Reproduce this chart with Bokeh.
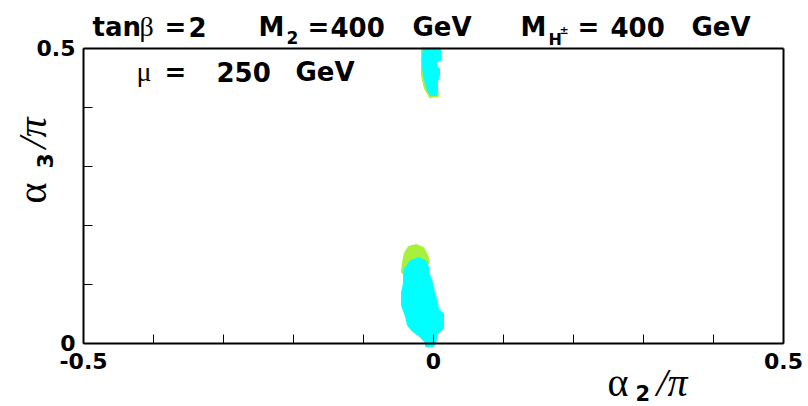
from math import pi
from bokeh.plotting import figure
from bokeh.models import Label, FixedTicker, Range1d, LinearAxis
from bokeh.embed import file_html
from bokeh.resources import INLINE

# ---- data (alpha2/pi, alpha3/pi) outlines of the allowed regions ----
upper_cyan_x = [-0.0143, 0.010, 0.010, 0.0043, 0.0043, 0.0086, 0.0086, 0.0057, 0.0057, 0.0043,
                -0.0043, -0.0086, -0.0114, -0.0143, -0.0157, -0.0157]
upper_cyan_y = [0.500, 0.500, 0.4788, 0.4754, 0.4686, 0.4653, 0.4534, 0.4415, 0.428, 0.4195,
                0.4195, 0.428, 0.4398, 0.4534, 0.4703, 0.4873]
upper_green_x = [-0.0171, -0.0129, -0.0129, -0.0057, 0.0057, 0.0071, -0.0057, -0.0129, -0.0171]
upper_green_y = [0.500, 0.500, 0.4449, 0.4229, 0.4314, 0.4178, 0.4161, 0.4314, 0.4534]

lower_green_x = [-0.0457, -0.0443, -0.0414, -0.0357, -0.0243, -0.0143, -0.0086, -0.0057, -0.0129, -0.040]
lower_green_y = [0.1195, 0.1364, 0.1534, 0.1636, 0.1669, 0.1619, 0.150, 0.1364, 0.1263, 0.1144]

lower_cyan_x = [-0.0414, -0.0329, -0.0214, -0.0114, -0.0071, -0.0057, -0.0014, 0.0014, 0.0057, 0.0071,
                0.0143, 0.0143, 0.0057, 0.0029, 0.0, -0.0114, -0.0114, -0.0214, -0.030, -0.0371,
                -0.040, -0.0457, -0.0457, -0.0429, -0.0429]
lower_cyan_y = [0.1263, 0.1398, 0.1449, 0.1398, 0.1297, 0.1161, 0.1025, 0.0856, 0.0686, 0.0568,
                0.050, 0.0246, 0.0144, 0.0, -0.006, -0.006, 0.0, 0.0127, 0.0195, 0.0297,
                0.0449, 0.0636, 0.0856, 0.1008, 0.1161]

x_limits = (-0.5, 0.5)
y_limits = (0.0, 0.5)
x_major_ticks = [-0.5, 0, 0.5]
x_minor_ticks = [-0.4, -0.3, -0.2, -0.1, 0.1, 0.2, 0.3, 0.4]
y_major_ticks = [0, 0.5]
y_minor_ticks = [0.1, 0.2, 0.3, 0.4]
x_tick_labels = {-0.5: "-0.5", 0: "0", 0.5: "0.5"}
y_tick_labels = {0: "0", 0.5: "0.5"}

CYAN = "#00FFFF"
GREEN = "#A8F03C"

W, H = 808, 406
# frame of the data box in canvas pixels
FL, FR, FT, FB = 83, 783, 47.5, 342.5
xs = (x_limits[1] - x_limits[0]) / (FR - FL)
ys = (y_limits[1] - y_limits[0]) / (FB - FT)
x_range = Range1d(x_limits[0] - FL * xs, x_limits[1] + (W - FR) * xs)
y_range = Range1d(y_limits[0] - (H - FB) * ys, y_limits[1] + FT * ys)

p = figure(width=W, height=H, output_backend="svg", toolbar_location=None,
           x_range=x_range, y_range=y_range, x_axis_location=None, y_axis_location=None,
           min_border=0)
p.title.visible = False
p.xgrid.visible = False
p.ygrid.visible = False
p.background_fill_color = "white"
p.border_fill_color = "white"
p.outline_line_color = None

p.patch(upper_green_x, upper_green_y, fill_color=GREEN, line_color=GREEN, line_width=1)
p.patch(upper_cyan_x, upper_cyan_y, fill_color=CYAN, line_color=CYAN, line_width=1)
p.patch(lower_green_x, lower_green_y, fill_color=GREEN, line_color=GREEN, line_width=1)
p.patch(lower_cyan_x, lower_cyan_y, fill_color=CYAN, line_color=CYAN, line_width=1)


def style_axis(ax, maj, mnr, labels):
    ax.ticker = FixedTicker(ticks=maj, minor_ticks=mnr)
    ax.axis_line_color = "black"
    ax.axis_line_width = 2
    ax.major_tick_in = 9
    ax.major_tick_out = 0
    ax.minor_tick_in = 9
    ax.minor_tick_out = 0
    ax.major_tick_line_color = "black"
    ax.minor_tick_line_color = "black"
    ax.major_tick_line_width = 1
    ax.minor_tick_line_width = 1
    ax.major_label_text_font = "DejaVu Sans"
    ax.major_label_text_font_style = "bold"
    ax.major_label_text_font_size = "22px"
    ax.major_label_text_color = "black"
    ax.major_label_overrides = labels


xaxis = LinearAxis(fixed_location=y_limits[0], bounds=x_limits)
style_axis(xaxis, x_major_ticks, x_minor_ticks, x_tick_labels)
xaxis.major_label_standoff = 10
p.add_layout(xaxis, "below")

yaxis = LinearAxis(fixed_location=x_limits[0], bounds=y_limits)
style_axis(yaxis, y_major_ticks, y_minor_ticks, y_tick_labels)
yaxis.major_label_standoff = 8
p.add_layout(yaxis, "left")

# top and right edges of the box
for loc, fixed, bnds in (("above", y_limits[1], x_limits), ("right", x_limits[1], y_limits)):
    edge = LinearAxis(fixed_location=fixed, bounds=bnds)
    edge.ticker = FixedTicker(ticks=[])
    edge.axis_line_color = "black"
    edge.axis_line_width = 2
    edge.major_label_text_font_size = "0px"
    p.add_layout(edge, loc)


# pixel -> data helpers for placing annotation text
def dx(px):
    return x_range.start + px * xs


def dy(py):
    return y_range.start + (H - py) * ys


FIX = 11  # empirical baseline correction (px)


def lab(px, py, text, size, font="DejaVu Sans", style="bold", angle=0.0):
    if angle:
        px -= FIX + 2
    else:
        py -= FIX
    p.add_layout(Label(x=dx(px), y=dy(py), text=text, text_font=font,
                       text_font_size=f"{size}px", text_font_style=style,
                       text_color="black", text_align="left",
                       text_baseline="alphabetic", angle=angle))


# top line
lab(92, 37, "tan", 26)
lab(139, 37, "β", 28, font="Liberation Serif", style="normal")
lab(164, 37, "=", 26)
lab(188, 37, "2", 26)
lab(258, 37, "M", 26)
lab(286, 48, "2", 17)
lab(307, 37, "=", 26)
lab(330, 37, "400", 26)
lab(412, 37, "GeV", 26)
lab(520, 37, "M", 26)
lab(548, 50, "H", 16)
lab(559, 41, "±", 11)
lab(577, 37, "=", 26)
lab(610, 37, "400", 26)
lab(691, 37, "GeV", 26)
# second line
lab(136, 82, "μ", 28, font="Liberation Serif", style="normal")
lab(164, 82, "=", 26)
lab(216, 82, "250", 26)
lab(295, 82, "GeV", 26)

# x axis title
lab(607, 393, "α", 40, font="Liberation Serif", style="normal")
lab(635, 403, "2", 21)
lab(656, 393, "/π", 40, font="Liberation Serif", style="italic")
# y axis title (rotated)
lab(45, 203, "α", 40, font="Liberation Serif", style="normal", angle=pi / 2)
lab(57, 168, "3", 22, angle=pi / 2)
lab(45, 148, "/π", 40, font="Liberation Serif", style="italic", angle=pi / 2)

open("out.html", "w").write(file_html(p, INLINE))
